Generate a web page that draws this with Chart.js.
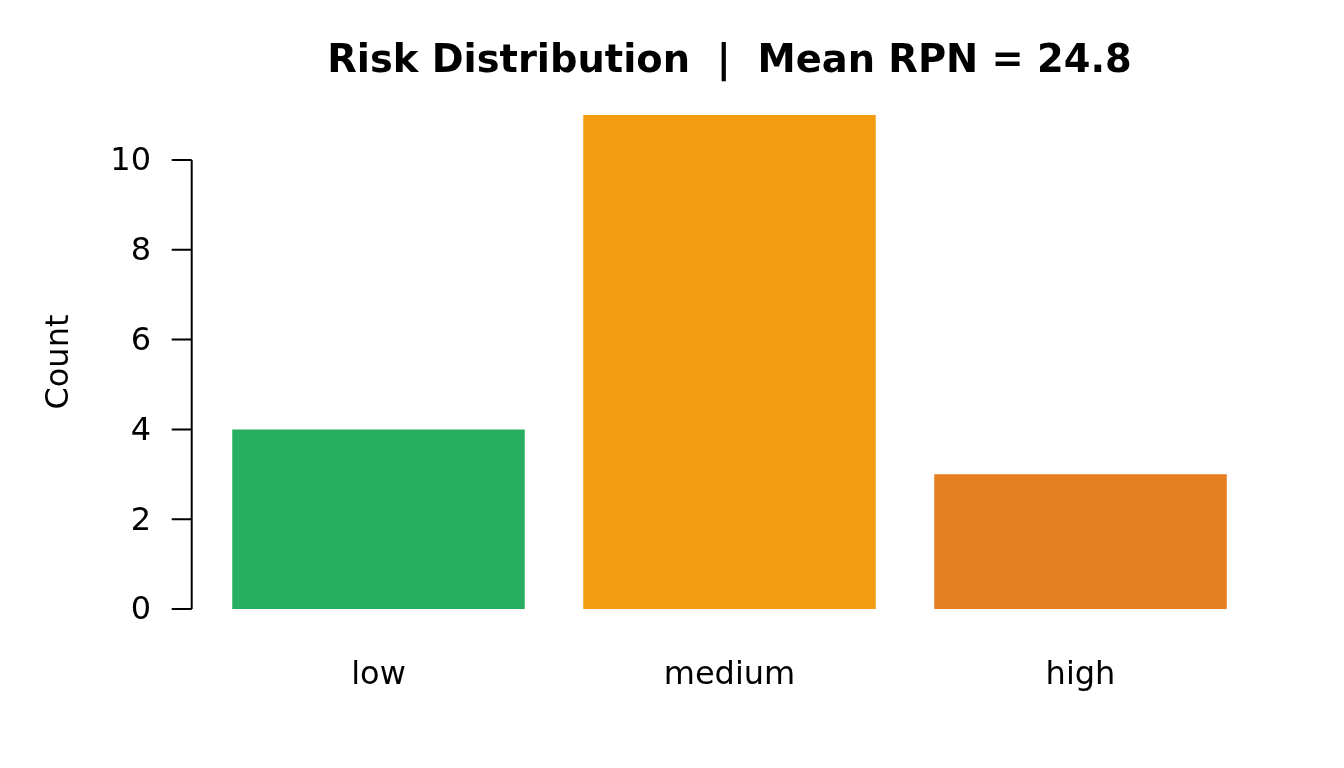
<!DOCTYPE html>
<html>
<head>
<meta charset="utf-8">
<title>Risk Distribution</title>
<script src="https://cdn.jsdelivr.net/npm/chart.js@4"></script>
<style>
  html, body { margin: 0; padding: 0; background: #fff; }
  #wrap { width: 1344px; height: 768px; position: relative; }
</style>
</head>
<body>
<div id="wrap"><canvas id="riskChart"></canvas></div>
<script>
// Dữ liệu biểu đồ
const categories = ['low', 'medium', 'high'];
const counts = [4, 11, 3];
const yTicks = [0, 2, 4, 6, 8, 10];
const meanRpn = 24.8;

const barColors = ['#27AE60', '#F39C12', '#E67E22'];

Chart.defaults.font.family = "'DejaVu Sans', sans-serif";
Chart.defaults.color = '#000';

// Trục y kiểu R: đường dọc từ 0 đến 10, lệch trái khỏi vùng vẽ
const rAxisPlugin = {
    id: 'rAxis',
    afterDraw(chart) {
        const y = chart.scales.y;
        const ctx = chart.ctx;
        const x0 = chart.chartArea.left - 11.3;
        ctx.save();
        ctx.strokeStyle = '#000';
        ctx.lineWidth = 2;
        ctx.beginPath();
        ctx.moveTo(x0, y.getPixelForValue(yTicks[0]));
        ctx.lineTo(x0, y.getPixelForValue(yTicks[yTicks.length - 1]));
        yTicks.forEach(v => {
            const py = y.getPixelForValue(v);
            ctx.moveTo(x0, py);
            ctx.lineTo(x0 - 20, py);
        });
        ctx.stroke();
        ctx.restore();
    }
};

const ctx = document.getElementById('riskChart').getContext('2d');
const riskChart = new Chart(ctx, {
    type: 'bar',
    data: {
        labels: categories,
        datasets: [{
            label: 'Count',
            data: counts,
            backgroundColor: barColors,
            borderWidth: 0,
            categoryPercentage: 1,
            barPercentage: 1 / 1.2
        }]
    },
    options: {
        responsive: true,
        maintainAspectRatio: false,
        animation: false,
        devicePixelRatio: 1,
        layout: { padding: { left: 0, right: 88, top: 0, bottom: 0 } },
        plugins: {
            legend: { display: false },
            tooltip: { enabled: false },
            title: {
                display: true,
                fullSize: false,
                text: `Risk Distribution  |  Mean RPN = ${meanRpn}`,
                color: '#000',
                font: { size: 38.4, weight: 'bold' },
                padding: { top: 39, bottom: 10.2 }
            }
        },
        scales: {
            x: {
                grid: { display: false },
                border: { display: false },
                ticks: { font: { size: 32 }, padding: 19.5, color: '#000' },
                afterFit(scale) { scale.height = 139.2; }
            },
            y: {
                min: -0.44,
                max: 11.44,
                grid: { display: false },
                border: { display: false },
                afterBuildTicks(scale) {
                    scale.ticks = yTicks.map(v => ({ value: v }));
                },
                ticks: { font: { size: 32 }, padding: 44, color: '#000', labelOffset: 2 },
                title: {
                    display: true,
                    text: 'Count',
                    color: '#000',
                    font: { size: 32 },
                    padding: { top: 40, bottom: 0 }
                },
                afterFit(scale) { scale.width = 203; }
            }
        }
    },
    plugins: [rAxisPlugin]
});
</script>
</body>
</html>
